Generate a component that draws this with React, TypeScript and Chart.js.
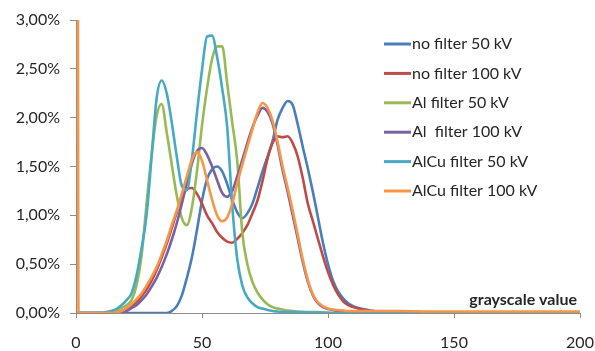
import React, { useEffect, useRef } from "react";
import { Chart, registerables } from "chart.js";
Chart.register(...registerables);

// grayscale values (x)
const GRAY = [
  0, 1,
  2, 4, 6, 8, 10, 12, 14, 16, 18, 20,
  22, 24, 26, 28, 30, 32, 34, 36, 38, 40,
  42, 44, 46, 48, 50, 52, 54, 56, 58, 60,
  62, 64, 66, 68, 70, 72, 74, 76, 78, 80,
  82, 84, 86, 88, 90, 92, 94, 96, 98, 100,
  102, 104, 106, 108, 110, 112, 114, 116, 118, 120,
  122, 124, 126, 128, 130,
  140, 160, 180, 200,
];

// share of pixels, in %
const NO_FILTER_50 = [
  0, 0,
  0, 0, 0, 0, 0, 0, 0, 0, 0, 0,
  0, 0, 0, 0, 0, 0, 0, 0, 0.02, 0.07,
  0.18, 0.36, 0.57, 0.85, 1.15, 1.37, 1.47, 1.5, 1.45, 1.32,
  1.16, 1.03, 0.97, 1.02, 1.12, 1.28, 1.45, 1.6, 1.76, 1.98,
  2.1, 2.17, 2.13, 1.93, 1.7, 1.48, 1.24, 0.98, 0.72, 0.5,
  0.33, 0.22, 0.15, 0.1, 0.07, 0.05, 0.04, 0.03, 0.02, 0.015,
  0.01, 0.01, 0.005, 0, 0,
  0, 0, 0, 0,
];
const NO_FILTER_100 = [
  0, 0,
  0, 0, 0, 0, 0, 0, 0, 0.01, 0.02, 0.04,
  0.07, 0.11, 0.17, 0.24, 0.33, 0.44, 0.57, 0.71, 0.87, 1.03,
  1.18, 1.27, 1.28, 1.22, 1.12, 1.0, 0.92, 0.83, 0.77, 0.73,
  0.72, 0.76, 0.82, 0.9, 1.02, 1.15, 1.35, 1.58, 1.74, 1.81,
  1.8, 1.81, 1.74, 1.6, 1.38, 1.12, 0.94, 0.76, 0.58, 0.42,
  0.29, 0.19, 0.12, 0.08, 0.06, 0.045, 0.035, 0.025, 0.02, 0.015,
  0.01, 0.01, 0.01, 0.005, 0,
  0, 0, 0, 0,
];
const AL_50 = [
  0, 0,
  0, 0, 0, 0, 0, 0.01, 0.02, 0.03, 0.05, 0.08,
  0.13, 0.28, 0.58, 1.12, 1.62, 2.02, 2.14, 1.85, 1.52, 1.2,
  0.97, 0.9, 1.08, 1.45, 1.92, 2.3, 2.6, 2.73, 2.73, 2.35,
  1.95, 1.55, 0.82, 0.5, 0.32, 0.21, 0.14, 0.09, 0.06, 0.045,
  0.035, 0.025, 0.02, 0.015, 0.01, 0.01, 0.01, 0.01, 0.005, 0.005,
  0, 0, 0, 0, 0, 0, 0, 0, 0, 0,
  0, 0, 0, 0, 0,
  0, 0, 0, 0,
];
const AL_100 = [
  0, 0,
  0, 0, 0, 0, 0, 0, 0, 0, 0.01, 0.02,
  0.05, 0.08, 0.13, 0.19, 0.27, 0.36, 0.47, 0.6, 0.75, 0.92,
  1.12, 1.33, 1.53, 1.66, 1.69, 1.62, 1.5, 1.36, 1.23, 1.19,
  1.25, 1.4, 1.57, 1.74, 1.9, 2.02, 2.1, 2.06, 1.94, 1.72,
  1.46, 1.24, 1.0, 0.76, 0.52, 0.32, 0.18, 0.1, 0.06, 0.04,
  0.03, 0.02, 0.015, 0.01, 0.01, 0.005, 0.005, 0, 0, 0,
  0, 0, 0, 0, 0,
  0, 0, 0, 0,
];
const ALCU_50 = [
  0, 0,
  0, 0, 0, 0, 0, 0.005, 0.02, 0.04, 0.08, 0.13,
  0.2, 0.38, 0.66, 1.0, 1.6, 2.2, 2.38, 2.25, 1.95, 1.6,
  1.3, 1.26, 1.58, 2.05, 2.49, 2.83, 2.84, 2.62, 2.3, 1.9,
  1.1, 0.55, 0.28, 0.16, 0.1, 0.06, 0.045, 0.03, 0.02, 0.015,
  0.01, 0.01, 0.01, 0.01, 0.01, 0.005, 0.005, 0.005, 0.005, 0,
  0, 0, 0, 0, 0, 0, 0, 0, 0, 0,
  0, 0, 0, 0, 0,
  0, 0, 0, 0,
];
const ALCU_100 = [
  40, 0,
  0, 0, 0, 0, 0, 0, 0, 0.01, 0.02, 0.05,
  0.09, 0.14, 0.2, 0.28, 0.37, 0.47, 0.6, 0.74, 0.9, 1.05,
  1.22, 1.4, 1.57, 1.65, 1.56, 1.36, 1.16, 1.0, 0.94, 0.98,
  1.12, 1.33, 1.52, 1.7, 1.88, 2.05, 2.15, 2.1, 1.97, 1.75,
  1.5, 1.28, 1.05, 0.8, 0.55, 0.34, 0.19, 0.11, 0.07, 0.045,
  0.035, 0.03, 0.025, 0.02, 0.02, 0.02, 0.02, 0.02, 0.02, 0.02,
  0.02, 0.02, 0.02, 0.02, 0.02,
  0.015, 0.015, 0.015, 0.015,
];

const SERIES_NAMES = [
  "no filter 50 kV",
  "no filter 100 kV",
  "Al filter 50 kV",
  "Al  filter 100 kV",
  "AlCu filter 50 kV",
  "AlCu filter 100 kV",
];
const SERIES = [NO_FILTER_50, NO_FILTER_100, AL_50, AL_100, ALCU_50, ALCU_100];
const COLORS = ["#4A7EBB", "#BE4B48", "#98B954", "#7D60A0", "#46AAC5", "#F79646"];

const Y_TICKS = [0, 0.5, 1, 1.5, 2, 2.5, 3];
const X_TICKS = [0, 50, 100, 150, 200];
const X_TITLE = "grayscale value";

const FONT = "Lato, 'Open Sans', sans-serif";
const TEXT = "#262626";

const overlayPlugin = {
  id: "overlay",
  afterDraw(chart: any) {
    const ctx = chart.ctx;
    ctx.save();
    ctx.textBaseline = "middle";
    SERIES_NAMES.forEach((name, i) => {
      const y = 44 + i * 29.4;
      ctx.strokeStyle = COLORS[i];
      ctx.lineWidth = 3;
      ctx.beginPath();
      ctx.moveTo(384, y);
      ctx.lineTo(411, y);
      ctx.stroke();
      ctx.fillStyle = TEXT;
      ctx.font = `16px ${FONT}`;
      ctx.textAlign = "left";
      ctx.fillText(name, 412, y);
    });
    ctx.font = `bold 16px ${FONT}`;
    ctx.textAlign = "right";
    ctx.fillStyle = TEXT;
    ctx.fillText(X_TITLE, 577, 300);
    ctx.restore();
  },
};

export default function App() {
  const ref = useRef<HTMLCanvasElement>(null);
  useEffect(() => {
    if (!ref.current) return;
    const chart = new Chart(ref.current, {
      type: "line",
      data: {
        datasets: SERIES.map((arr, i) => ({
          label: SERIES_NAMES[i],
          data: GRAY.map((x, j) => ({ x, y: arr[j] })),
          borderColor: COLORS[i],
          backgroundColor: COLORS[i],
          borderWidth: 2.6,
          pointRadius: 0,
          fill: false,
          cubicInterpolationMode: "monotone" as const,
          order: SERIES.length - 1 - i,
        })),
      },
      options: {
        animation: false,
        responsive: false,
        maintainAspectRatio: false,
        layout: { padding: { top: 20, right: 15, left: 0, bottom: 0 } },
        plugins: {
          legend: { display: false },
          tooltip: { enabled: false },
          title: { display: false },
        },
        scales: {
          x: {
            type: "linear",
            min: 0,
            max: 200,
            afterBuildTicks: (s: any) => {
              s.ticks = X_TICKS.map((v) => ({ value: v }));
            },
            afterFit: (s: any) => {
              s.height = 38;
              s.paddingLeft = 0;
              s.paddingRight = 0;
            },
            ticks: {
              font: { family: FONT, size: 16 },
              color: TEXT,
              padding: 15,
            },
            grid: {
              drawOnChartArea: false,
              drawTicks: true,
              tickLength: 5,
              color: "#8c8c8c",
            },
            border: { display: true, color: "#8c8c8c", width: 1 },
          },
          y: {
            type: "linear",
            min: 0,
            max: 3,
            afterBuildTicks: (s: any) => {
              s.ticks = Y_TICKS.map((v) => ({ value: v }));
            },
            afterFit: (s: any) => {
              s.width = 76;
              s.paddingTop = 0;
              s.paddingBottom = 0;
            },
            ticks: {
              font: { family: FONT, size: 16 },
              color: TEXT,
              padding: 10,
              callback: (v: any) => Number(v).toFixed(2).replace(".", ",") + "%",
            },
            grid: {
              drawOnChartArea: false,
              drawTicks: true,
              tickLength: 6,
              color: "#8c8c8c",
            },
            border: { display: true, color: "#8c8c8c", width: 1 },
          },
        },
      },
      plugins: [overlayPlugin],
    });
    return () => chart.destroy();
  }, []);
  return (
    <div style={{ position: "fixed", left: 0, top: 0, width: 595, height: 351, background: "#fff" }}>
      <canvas ref={ref} width={595} height={351} style={{ width: 595, height: 351 }} />
    </div>
  );
}
